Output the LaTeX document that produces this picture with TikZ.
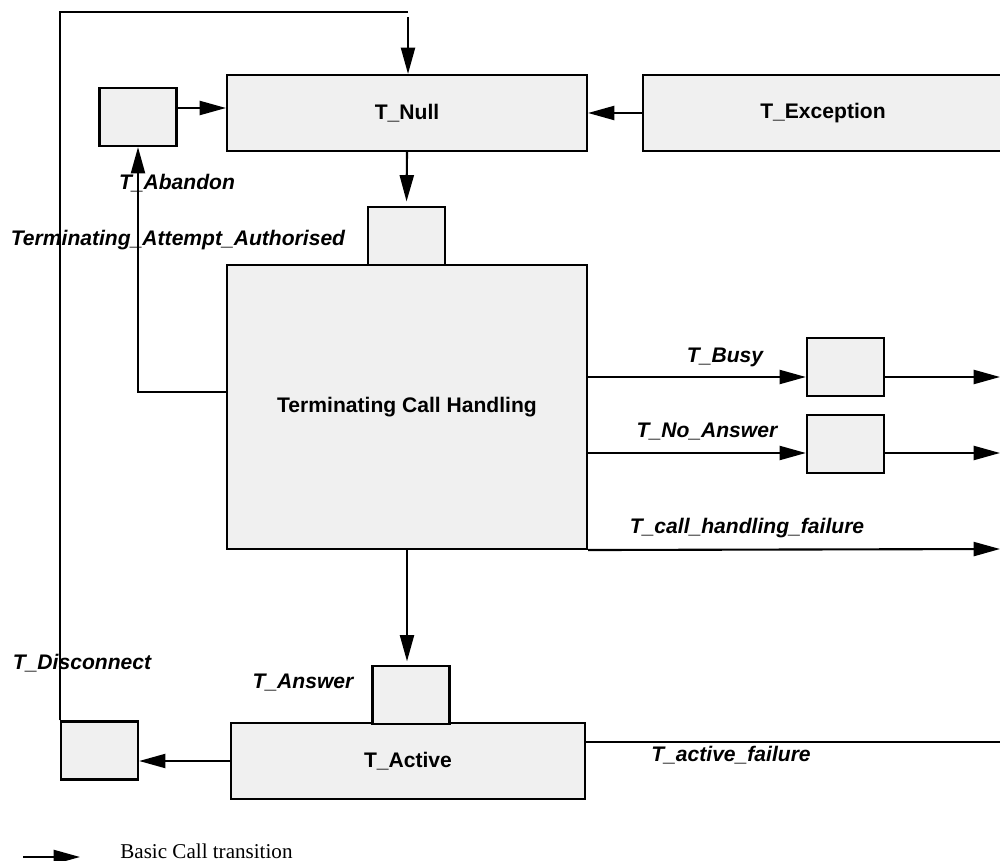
\documentclass[tikz,border=0pt]{standalone}
\usepackage{fontspec}
\setmainfont{Liberation Serif}
\setsansfont{Liberation Sans}
\usetikzlibrary{arrows.meta,positioning}

\begin{document}
\begin{tikzpicture}[x=0.02cm,y=-0.02cm,
    state/.style={draw, line width=1.2pt, fill=gray!12, inner sep=0pt,
      font=\sffamily\bfseries\fontsize{12}{14}\selectfont},
    pt/.style={draw, line width=1.3pt, fill=gray!12, inner sep=0pt,
      minimum width=1.54cm, minimum height=1.16cm},
    lbl/.style={inner sep=0pt, font=\sffamily\bfseries\itshape\fontsize{12}{14}\selectfont},
    trans/.style={line width=1.2pt, -{Triangle[length=15pt,width=8pt]}}]
    \clip (0,0) rectangle (1000,861);

    % States
    \node[state, minimum width=7.2cm, minimum height=1.52cm] (tnull) at (407,113) {T\_Null};
    \node[state, minimum width=7.2cm, minimum height=1.52cm] (texcept) at (823,113) {T\_Exception};
    \node[state, minimum width=7.2cm, minimum height=5.68cm] (tch) at (407,407) {Terminating Call Handling};
    \node[state, minimum width=7.08cm, minimum height=1.52cm] (tactive) at (408,761) {T\_Active};

    % Points in call
    \node[pt] (aband) at (138,117) {};
    \node[pt] (attempt) at (406.5,236) {};
    \node[pt] (busy) at (845.5,367) {};
    \node[pt] (noans) at (845.5,444) {};
    \node[pt] (answer) at (411,695) {};
    \node[pt] (disc) at (99.5,750.5) {};

    % Helper coordinates
    \coordinate (topend) at (408,12);
    \coordinate (abandy) at (0,108);
    \coordinate (abl) at (0,392);
    \coordinate (discy) at (0,761);
    \coordinate (rbusy) at (1000,377);
    \coordinate (rnoans) at (1000,453);
    \coordinate (rfail) at (1000,549);
    \coordinate (ractive) at (1010,742);

    % Transitions
    \draw[line width=1.2pt] (disc.north west) |- (topend);
    \draw[trans] ([yshift=-0.1cm]topend) -- (topend |- tnull.north);
    \draw[trans] (texcept.west) -- (tnull.east);
    \draw[trans] (aband.east |- abandy) -- (tnull.west |- abandy);
    \draw[trans, shorten >=2.5pt] (tnull.south) -- (attempt.north);
    \draw[trans] (tch.west |- abl) -| (aband.south);
    \draw[trans] (tch.east |- rbusy) -- (busy.west |- rbusy);
    \draw[trans] (busy.east |- rbusy) -- (rbusy);
    \draw[trans] (tch.east |- rnoans) -- (noans.west |- rnoans);
    \draw[trans] (noans.east |- rnoans) -- (rnoans);
    \draw[trans] (tch.south east) -- (rfail);
    \draw[trans, shorten >=2pt] (tch.south) -- (tch.south |- answer.north);
    \draw[trans] (tactive.west |- discy) -- (disc.east |- discy);
    \draw[line width=1.2pt] (tactive.east |- ractive) -- (ractive);

    % Labels
    \node[lbl] (labandon) at (177,183) {T\_Abandon};
    \node[lbl] (lattempt) at (178,240) {Terminating\_Attempt\_Authorised};
    \node[lbl] (lbusy) at (725,357) {T\_Busy};
    \node[lbl] (lnoans) at (707,432) {T\_No\_Answer};
    \node[lbl] (lfail) at (747,528) {T\_call\_handling\_failure};
    \node[lbl] (ldisc) at (82,663) {T\_Disconnect};
    \node[lbl] (lanswer) at (303,683) {T\_Answer};
    \node[lbl] (lactive) at (731,755) {T\_active\_failure};

    % Legend
    \coordinate (legs) at (23,857);
    \coordinate (lege) at (80,857);
    \draw[trans] (legs) -- (lege);
    \node[right, inner sep=0pt, font=\fontsize{12}{14}\selectfont] (legtext) at (120,851) {Basic Call transition};
\end{tikzpicture}
\end{document}
